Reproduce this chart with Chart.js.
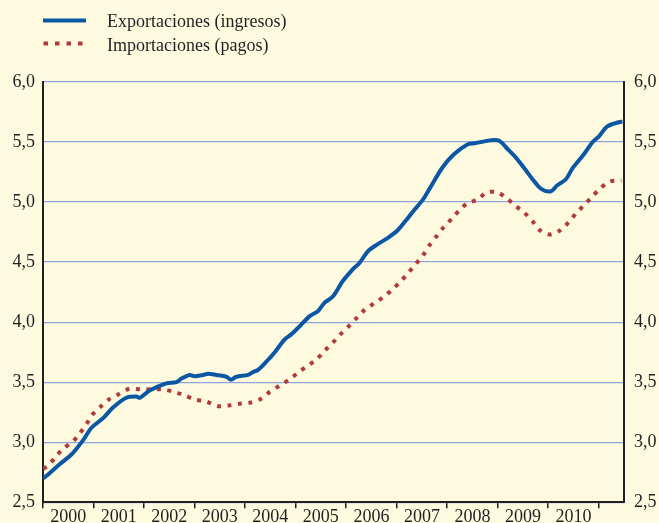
<!DOCTYPE html>
<html>
<head>
<meta charset="utf-8">
<script src="https://cdn.jsdelivr.net/npm/chart.js@4.4.1/dist/chart.umd.min.js"></script>
<style>
  body { margin: 0; background: #fefae0; }
  canvas { display: block; }
</style>
</head>
<body>
<canvas id="myChart" width="659" height="523"></canvas>
<script>
// tick labels / categories
var years = [2000, 2001, 2002, 2003, 2004, 2005, 2006, 2007, 2008, 2009, 2010];
var seriesNames = ['Exportaciones (ingresos)', 'Importaciones (pagos)'];

// exportaciones (ingresos)
var expDates = [2000.0, 2000.07, 2000.34, 2000.57, 2000.80, 2000.96, 2001.19, 2001.39, 2001.65, 2001.85,
  2001.92, 2002.11, 2002.44, 2002.64, 2002.74, 2002.90, 2003.00, 2003.17, 2003.27, 2003.43,
  2003.63, 2003.72, 2003.83, 2004.06, 2004.16, 2004.25, 2004.42, 2004.58, 2004.78, 2004.92,
  2005.08, 2005.28, 2005.44, 2005.57, 2005.74, 2005.93, 2006.13, 2006.26, 2006.43, 2006.59,
  2006.82, 2007.02, 2007.19, 2007.32, 2007.52, 2007.65, 2007.91, 2008.14, 2008.40, 2008.54,
  2008.67, 2008.87, 2009.03, 2009.20, 2009.36, 2009.53, 2009.69, 2009.86, 2010.05, 2010.18,
  2010.35, 2010.48, 2010.71, 2010.88, 2011.01, 2011.17, 2011.40, 2011.47];
var expValues = [2.70, 2.72, 2.82, 2.90, 3.02, 3.12, 3.20, 3.29, 3.37, 3.38,
  3.37, 3.43, 3.49, 3.50, 3.53, 3.56, 3.55, 3.56, 3.57, 3.56,
  3.545, 3.52, 3.545, 3.56, 3.585, 3.60, 3.67, 3.745, 3.855, 3.90,
  3.965, 4.05, 4.09, 4.16, 4.215, 4.34, 4.44, 4.49, 4.59, 4.64,
  4.70, 4.765, 4.85, 4.92, 5.02, 5.11, 5.29, 5.40, 5.48, 5.49,
  5.50, 5.515, 5.51, 5.44, 5.37, 5.28, 5.19, 5.11, 5.09, 5.14,
  5.19, 5.28, 5.40, 5.50, 5.55, 5.63, 5.665, 5.67];

// importaciones (pagos)
var impDates = [2000.0, 2000.08, 2000.24, 2000.39, 2000.58, 2000.72, 2000.86, 2000.98, 2001.14, 2001.30,
  2001.50, 2001.71, 2001.93, 2002.15, 2002.36, 2002.59, 2002.80, 2003.01, 2003.23, 2003.45,
  2003.67, 2003.89, 2004.11, 2004.31, 2004.49, 2004.68, 2004.87, 2005.05, 2005.25, 2005.42,
  2005.57, 2005.74, 2005.89, 2006.05, 2006.21, 2006.36, 2006.55, 2006.74, 2006.91, 2007.08,
  2007.23, 2007.37, 2007.52, 2007.65, 2007.79, 2007.93, 2008.09, 2008.24, 2008.40, 2008.60,
  2008.78, 2009.00, 2009.18, 2009.35, 2009.53, 2009.69, 2009.82, 2010.03, 2010.24, 2010.40,
  2010.55, 2010.70, 2010.86, 2011.02, 2011.21, 2011.45];
var impValues = [2.78, 2.80, 2.87, 2.945, 3.00, 3.07, 3.15, 3.23, 3.295, 3.355,
  3.40, 3.445, 3.44, 3.44, 3.44, 3.42, 3.39, 3.355, 3.34, 3.30,
  3.305, 3.32, 3.33, 3.36, 3.42, 3.47, 3.52, 3.58, 3.64, 3.69,
  3.76, 3.83, 3.90, 3.965, 4.035, 4.10, 4.155, 4.21, 4.27, 4.34,
  4.41, 4.48, 4.555, 4.64, 4.715, 4.79, 4.86, 4.93, 4.99, 5.02,
  5.08, 5.08, 5.03, 4.97, 4.91, 4.84, 4.77, 4.73, 4.765, 4.83,
  4.905, 4.97, 5.04, 5.11, 5.17, 5.18];

var blue = '#0b57a4';
var red = '#b23a3a';
var dark = '#231f20';
var gridBlue = '#8ea6dc';
var font = '"Liberation Serif", "Times New Roman", serif';

function toPoints(xs, ys) {
    var out = [];
    for (var i = 0; i < xs.length; i++) out.push({ x: xs[i], y: ys[i] });
    return out;
}

function comma(v) {
    return v.toFixed(1).replace('.', ',');
}

var legendPlugin = {
    id: 'topLegend',
    afterDraw: function (chart) {
        var c = chart.ctx;
        c.save();
        c.lineWidth = 4;
        c.strokeStyle = blue;
        c.beginPath();
        c.moveTo(43, 20.5);
        c.lineTo(86, 20.5);
        c.stroke();
        c.strokeStyle = red;
        c.setLineDash([4.5, 7]);
        c.beginPath();
        c.moveTo(43.5, 43.5);
        c.lineTo(84, 43.5);
        c.stroke();
        c.setLineDash([]);
        c.fillStyle = dark;
        c.font = '18px ' + font;
        c.textBaseline = 'alphabetic';
        c.fillText(seriesNames[0], 107, 27);
        c.fillText(seriesNames[1], 107, 50.5);
        c.restore();
    }
};

var ctx = document.getElementById('myChart').getContext('2d');
var myChart = new Chart(ctx, {
    type: 'line',
    data: {
        datasets: [{
            label: seriesNames[0],
            data: toPoints(expDates, expValues),
            borderColor: blue,
            borderWidth: 4,
            pointRadius: 0,
            tension: 0.3
        }, {
            label: seriesNames[1],
            data: toPoints(impDates, impValues),
            borderColor: red,
            borderWidth: 4,
            borderDash: [4, 6.5],
            pointRadius: 0,
            tension: 0.3
        }]
    },
    options: {
        responsive: false,
        animation: false,
        layout: { padding: { top: 82, left: 0, right: 0, bottom: 0 } },
        plugins: {
            legend: { display: false },
            tooltip: { enabled: false }
        },
        scales: {
            x: {
                type: 'linear',
                min: 2000,
                max: 2011.5,
                afterBuildTicks: function (axis) {
                    var t = [];
                    for (var i = 0; i < years.length; i++) {
                        t.push({ value: years[i] });
                        t.push({ value: years[i] + 0.5 });
                    }
                    t.push({ value: years[years.length - 1] + 1 });
                    axis.ticks = t;
                },
                afterFit: function (s) { s.height = 20; },
                ticks: {
                    autoSkip: false,
                    maxRotation: 0,
                    padding: -2,
                    color: dark,
                    font: { family: font, size: 18 },
                    callback: function (v) {
                        return Number.isInteger(v) ? '' : String(Math.floor(v));
                    }
                },
                grid: {
                    drawOnChartArea: false,
                    drawTicks: true,
                    tickLength: 6,
                    lineWidth: 1.5,
                    color: function (c) {
                        return (c.tick && Number.isInteger(c.tick.value)) ? dark : 'rgba(0,0,0,0)';
                    }
                },
                border: { color: dark, width: 2 }
            },
            y: {
                position: 'left',
                min: 2.5,
                max: 6.0,
                afterFit: function (s) { s.width = 43; },
                ticks: {
                    stepSize: 0.5,
                    padding: 8,
                    color: dark,
                    font: { family: font, size: 18 },
                    callback: function (v) { return comma(v); }
                },
                grid: { color: gridBlue, lineWidth: 1.2, drawTicks: false },
                border: { color: dark, width: 2 }
            },
            y2: {
                position: 'right',
                min: 2.5,
                max: 6.0,
                afterFit: function (s) { s.width = 35; },
                ticks: {
                    stepSize: 0.5,
                    padding: 10,
                    color: dark,
                    font: { family: font, size: 18 },
                    callback: function (v) { return comma(v); }
                },
                grid: { display: false, drawTicks: false },
                border: { display: true, color: dark, width: 2 }
            }
        }
    },
    plugins: [legendPlugin]
});
</script>
</body>
</html>
